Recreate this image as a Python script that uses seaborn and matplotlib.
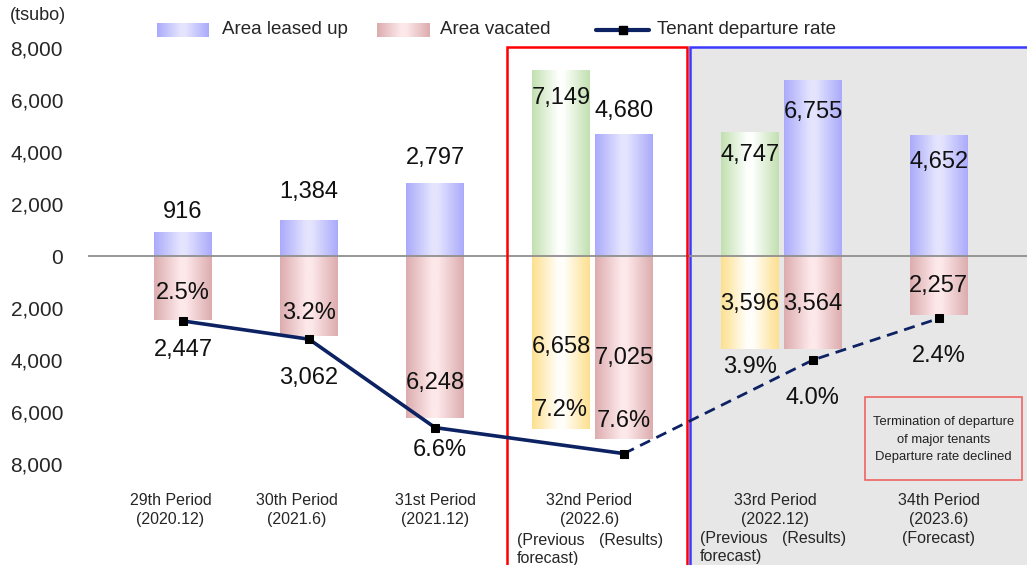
import numpy as np
import pandas as pd
import matplotlib
matplotlib.use("Agg")
import matplotlib.pyplot as plt
import seaborn as sns
from matplotlib.colors import LinearSegmentedColormap, to_rgb
from matplotlib.patches import Rectangle
from matplotlib.lines import Line2D
from matplotlib.transforms import blended_transform_factory

# ---------------------------------------------------------------- data
slots = [0, 2, 4, 6, 7, 9, 10, 12]            # bar slots along the x axis
is_forecast = [False, False, False, True, False, True, False, False]
leased = [916, 1384, 2797, 7149, 4680, 4747, 6755, 4652]
vacated = [2447, 3062, 6248, 6658, 7025, 3596, 3564, 2257]
rates = [2.5, 3.2, 6.6, 7.2, 7.6, 3.9, 4.0, 2.4]

period_labels = [
    "29th Period\n(2020.12)",
    "30th Period\n(2021.6)",
    "31st Period\n(2021.12)",
    "32nd Period\n(2022.6)",
    "33rd Period\n(2022.12)",
    "34th Period\n(2023.6)\n(Forecast)",
]
period_pos = [-0.2, 1.8, 4.0, 6.45, 9.4, 12.0]

y_ticks = [-8000, -6000, -4000, -2000, 0, 2000, 4000, 6000, 8000]

# label placement (data units of the tsubo axis)
lease_label_y = [1700, 2460, 3770, 6080, 5580, 3880, 5540, 3620]
vac_label_y = [-3620, -4690, -4890, -3500, -3920, -1850, -1850, -1150]
rate_label_y = [-1420, -2190, -7460, -5920, -6350, -4270, -5460, -3850]

# ---------------------------------------------------------------- style
sns.set_theme(style="white")
plt.rcParams["font.family"] = ["Liberation Sans", "DejaVu Sans"]

NAVY = "#0c2262"
GRADIENTS = {
    "Area leased up": ("#aaaafb", "#e4e4fe"),
    "Area vacated": ("#dcacae", "#fde8ea"),
    "Leased (previous forecast)": ("#c2e0b0", "#fdfffc"),
    "Vacated (previous forecast)": ("#fde08e", "#fffefa"),
}


def gradient_cmap(edge, center):
    return LinearSegmentedColormap.from_list(
        "g", [(0.0, edge), (0.45, center), (0.55, center), (1.0, edge)])


W, H = 1027, 565
fig = plt.figure(figsize=(W / 100, H / 100), dpi=100)
ax = fig.add_axes([88 / W, 1 - 464 / H, (W - 88) / W, (464 - 48) / H])

XLIM = (-1.51, 13.4)
YLIM = (-8000, 8000)

# ---------------------------------------------------------------- bars
rows = []
for s, f, up, down in zip(slots, is_forecast, leased, vacated):
    rows.append((s, up, "Leased (previous forecast)" if f else "Area leased up"))
    rows.append((s, -down, "Vacated (previous forecast)" if f else "Area vacated"))
df = pd.DataFrame(rows, columns=["slot", "tsubo", "series"])

palette = {k: v[0] for k, v in GRADIENTS.items()}
sns.barplot(data=df, x="slot", y="tsubo", hue="series", palette=palette,
            native_scale=True, dodge=False, width=0.92, errorbar=None,
            saturation=1, legend=False, ax=ax)

# repaint each bar with a horizontal gradient
grad = np.linspace(0, 1, 256)[None, :]
for patch in list(ax.patches):
    h = patch.get_height()
    if h == 0:
        continue
    fc = np.array(patch.get_facecolor()[:3])
    key = min(GRADIENTS, key=lambda k: np.abs(np.array(to_rgb(GRADIENTS[k][0])) - fc).sum())
    x0, y0, w = patch.get_x(), patch.get_y(), patch.get_width()
    ax.imshow(grad, cmap=gradient_cmap(*GRADIENTS[key]), aspect="auto",
              extent=[x0, x0 + w, min(y0, y0 + h), max(y0, y0 + h)],
              interpolation="bilinear", zorder=1.5)
    patch.set_visible(False)

ax.axhline(0, color="#8f8f8f", lw=1.3, zorder=1.8)

# ---------------------------------------------------------------- period frames
bt = blended_transform_factory(ax.transData, fig.transFigure)
top_f = 1 - 47 / H
ax.add_patch(Rectangle((8.05, -0.05), 10, top_f + 0.05, transform=bt,
                       facecolor="#e7e7e7", edgecolor="#3a3aff", lw=1.8,
                       clip_on=False, zorder=0.2))
ax.add_patch(Rectangle((5.15, -0.05), 2.85, top_f + 0.05, transform=bt,
                       facecolor="none", edgecolor="#ff0000", lw=1.8,
                       clip_on=False, zorder=3))

# ---------------------------------------------------------------- departure rate line
ax2 = ax.twinx()
ax2.set_ylim(8, -8)
res_x = [s for s, f in zip(slots, is_forecast) if not f]
res_r = [r for r, f in zip(rates, is_forecast) if not f]
mk = dict(marker="s", markersize=6, markerfacecolor="black", markeredgecolor="black")
sns.lineplot(x=res_x[:4], y=res_r[:4], ax=ax2, color=NAVY, lw=2.6, **mk)
sns.lineplot(x=res_x[3:], y=res_r[3:], ax=ax2, color=NAVY, lw=2.0, **mk)
ax2.lines[-1].set_dashes([4, 2.5])
ax2.set_axis_off()

# ---------------------------------------------------------------- value labels
lbl = dict(ha="center", va="center", fontsize=17, color="#111111", zorder=5)
for s, v, y in zip(slots, leased, lease_label_y):
    ax.text(s, y, f"{v:,}", **lbl)
for s, v, y in zip(slots, vacated, vac_label_y):
    ax.text(s, y, f"{v:,}", **lbl)
for s, r, y in zip(slots, rates, rate_label_y):
    ax.text(s + (0.08 if s == 4 else 0), y, f"{r:.1f}%", **lbl)

# ---------------------------------------------------------------- axes
ax.set_xlim(*XLIM)
ax.set_ylim(*YLIM)
ax2.set_xlim(*XLIM)
ax.set_yticks(y_ticks)
ax.set_yticklabels([f"{abs(v):,}" for v in y_ticks], fontsize=15)
ax.set_xticks(period_pos)
ax.set_xticklabels(period_labels, fontsize=11.5, linespacing=1.32)
ax.tick_params(axis="y", length=0, pad=18)
ax.tick_params(axis="x", length=0, pad=21)
ax.set_xlabel("")
ax.set_ylabel("")
for sp in ax.spines.values():
    sp.set_visible(False)

sub = dict(fontsize=11.5, va="center", linespacing=1.25, transform=bt)
ax.text(5.30, 1 - 549 / H, "(Previous\nforecast)", ha="left", **sub)
ax.text(7.11, 1 - 540 / H, "(Results)", ha="center", **sub)
ax.text(8.21, 1 - 548 / H, "(Previous\nforecast)", ha="left", **sub)
ax.text(10.02, 1 - 538 / H, "(Results)", ha="center", **sub)

# ---------------------------------------------------------------- note box
fig.patches.append(Rectangle((865 / W, 1 - 480 / H), 157 / W, 83 / H,
                             transform=fig.transFigure, facecolor="#e7e7e7",
                             edgecolor="#f06464", lw=1.2, zorder=4))
fig.text(943.5 / W, 1 - 439.5 / H,
         "Termination of departure\nof major tenants\nDeparture rate declined",
         ha="center", va="center", fontsize=9.4, linespacing=1.58,
         color="#222222", zorder=5)

# ---------------------------------------------------------------- unit and legend
fig.text(10 / W, 1 - 15 / H, "(tsubo)", fontsize=13, va="center", ha="left")

sw_h = 14 / H
for x0, x1, key in [(157, 209, "Area leased up"), (377, 430, "Area vacated")]:
    sax = fig.add_axes([x0 / W, 1 - 37 / H, (x1 - x0) / W, sw_h])
    sax.imshow(grad, cmap=gradient_cmap(*GRADIENTS[key]), aspect="auto",
               interpolation="bilinear")
    sax.set_axis_off()
fig.text(222 / W, 1 - 34 / H, "Area leased up", fontsize=13.5, va="baseline")
fig.text(440 / W, 1 - 34 / H, "Area vacated", fontsize=13.5, va="baseline")
ly = 1 - 30 / H
fig.lines.append(Line2D([596 / W, 649 / W], [ly, ly], transform=fig.transFigure,
                        color=NAVY, lw=3))
fig.lines.append(Line2D([622.5 / W], [ly], transform=fig.transFigure, lw=0,
                        marker="s", markersize=6, color="black"))
fig.text(657 / W, 1 - 34 / H, "Tenant departure rate", fontsize=13.5, va="baseline")

fig.savefig("out.png", dpi=100)
